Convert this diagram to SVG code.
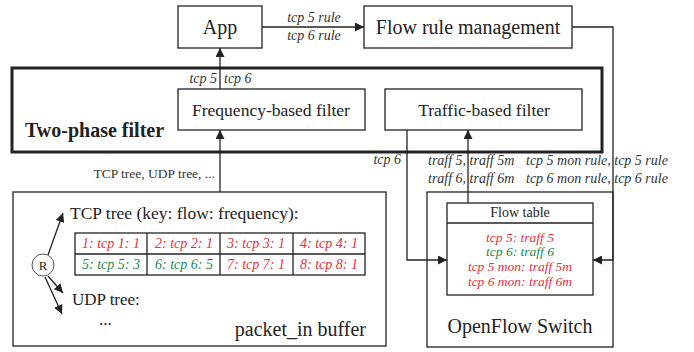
<svg xmlns="http://www.w3.org/2000/svg" width="694" height="352" viewBox="0 0 694 352">
<defs>
<marker id="ah" viewBox="0 0 10 10" refX="10" refY="5" markerWidth="9" markerHeight="9" markerUnits="userSpaceOnUse" orient="auto"><path d="M0,0 L10,5 L0,10 z" fill="#222"/></marker>
</defs>
<rect width="694" height="352" fill="#fff"/>
<g fill="#222">
<g id="two-phase">
<rect x="12" y="68" width="590" height="84" fill="none" stroke="#222" stroke-width="3"/>
<text style="font-family:'Liberation Serif',serif" x="25" y="137" font-size="20" font-weight="bold">Two-phase filter</text>
</g>
<g id="app"><rect x="178" y="6" width="84" height="42" fill="#fff" stroke="#222" stroke-width="1.3"/><text style="font-family:'Liberation Serif',serif" x="220" y="34" font-size="20" text-anchor="middle">App</text></g>
<g id="frm"><rect x="364" y="6" width="208" height="42" fill="#fff" stroke="#222" stroke-width="1.3"/><text style="font-family:'Liberation Serif',serif" x="468" y="34" font-size="20" text-anchor="middle">Flow rule management</text></g>
<g id="freq"><rect x="178" y="89" width="187" height="41" fill="#fff" stroke="#222" stroke-width="1.3"/><text style="font-family:'Liberation Serif',serif" x="271" y="116" font-size="17.5" text-anchor="middle">Frequency-based filter</text></g>
<g id="traffic"><rect x="385" y="89" width="197" height="41" fill="#fff" stroke="#222" stroke-width="1.3"/><text style="font-family:'Liberation Serif',serif" x="484" y="116" font-size="17.5" text-anchor="middle">Traffic-based filter</text></g>
<g id="buffer">
<rect x="13" y="192" width="373" height="154" fill="#fff" stroke="#222" stroke-width="1.3"/>
<text style="font-family:'Liberation Serif',serif" x="70" y="219" font-size="17.5">TCP tree (key: flow: frequency):</text>
<g fill="none" stroke="#222" stroke-width="1.3">
<rect x="75" y="233" width="290" height="42"/>
<line x1="75" y1="254" x2="365" y2="254"/><line x1="147" y1="233" x2="147" y2="275"/><line x1="220" y1="233" x2="220" y2="275"/><line x1="293" y1="233" x2="293" y2="275"/>
</g>
<g font-style="italic" font-size="14" text-anchor="middle">
<text style="font-family:'Liberation Serif',serif" fill="#e8303a" x="111" y="248">1: tcp 1: 1</text><text style="font-family:'Liberation Serif',serif" fill="#e8303a" x="184" y="248">2: tcp 2: 1</text><text style="font-family:'Liberation Serif',serif" fill="#e8303a" x="256" y="248">3: tcp 3: 1</text><text style="font-family:'Liberation Serif',serif" fill="#e8303a" x="329" y="248">4: tcp 4: 1</text>
<text style="font-family:'Liberation Serif',serif" fill="#1a8a50" x="111" y="269">5: tcp 5: 3</text><text style="font-family:'Liberation Serif',serif" fill="#1a8a50" x="184" y="269">6: tcp 6: 5</text><text style="font-family:'Liberation Serif',serif" fill="#e8303a" x="256" y="269">7: tcp 7: 1</text><text style="font-family:'Liberation Serif',serif" fill="#e8303a" x="329" y="269">8: tcp 8: 1</text>
</g>
<circle cx="43" cy="265" r="11" fill="#fff" stroke="#555" stroke-width="1"/>
<text style="font-family:'Liberation Serif',serif" x="43" y="270" font-size="13" text-anchor="middle">R</text>
<g fill="none" stroke="#222" stroke-width="1.3" marker-end="url(#ah)"><line x1="48" y1="255" x2="63" y2="213"/><line x1="48" y1="276" x2="63" y2="293"/><line x1="45" y1="277" x2="62" y2="314"/></g>
<text style="font-family:'Liberation Serif',serif" x="72" y="305" font-size="17">UDP tree:</text>
<text style="font-family:'Liberation Serif',serif" x="99" y="325" font-size="17">...</text>
<text style="font-family:'Liberation Serif',serif" x="366" y="336" font-size="20" text-anchor="end">packet_in buffer</text>
</g>
<g id="switch">
<rect x="427" y="192" width="186" height="155" fill="#fff" stroke="#222" stroke-width="1.3"/>
<rect x="447" y="203" width="146" height="92" fill="#fff" stroke="#222" stroke-width="1.3"/>
<line x1="447" y1="223" x2="593" y2="223" stroke="#222" stroke-width="1.3"/>
<text style="font-family:'Liberation Serif',serif" x="520" y="217" font-size="14" text-anchor="middle">Flow table</text>
<g font-style="italic" font-size="13.5" text-anchor="middle">
<text style="font-family:'Liberation Serif',serif" fill="#e8303a" x="520" y="242">tcp 5: traff 5</text>
<text style="font-family:'Liberation Serif',serif" fill="#1a8a50" x="520" y="256">tcp 6: traff 6</text>
<text style="font-family:'Liberation Serif',serif" fill="#e8303a" x="520" y="271">tcp 5 mon: traff 5m</text>
<text style="font-family:'Liberation Serif',serif" fill="#e8303a" x="520" y="286">tcp 6 mon: traff 6m</text>
</g>
<text style="font-family:'Liberation Serif',serif" x="520" y="333" font-size="20" text-anchor="middle">OpenFlow Switch</text>
</g>
<g id="connectors" fill="none" stroke="#222" stroke-width="1.3">
<line x1="262" y1="27" x2="364" y2="27" marker-end="url(#ah)"/>
<polyline points="572,27 613,27 613,260 593,260" marker-end="url(#ah)"/>
<line x1="220" y1="89" x2="220" y2="48" marker-end="url(#ah)"/>
<line x1="220" y1="192" x2="220" y2="130" marker-end="url(#ah)"/>
<polyline points="407,130 407,260 447,260" marker-end="url(#ah)"/>
<line x1="468" y1="203" x2="468" y2="130" marker-end="url(#ah)"/>
</g>
<g id="labels" font-style="italic" font-size="14" fill="#333">
<text style="font-family:'Liberation Serif',serif" x="314" y="22" text-anchor="middle">tcp 5 rule</text>
<text style="font-family:'Liberation Serif',serif" x="314" y="40" text-anchor="middle">tcp 6 rule</text>
<text style="font-family:'Liberation Serif',serif" x="217" y="83" text-anchor="end">tcp 5</text>
<text style="font-family:'Liberation Serif',serif" x="224" y="83">tcp 6</text>
<text style="font-family:'Liberation Serif',serif" x="215" y="178" font-size="13.5" text-anchor="end" font-style="normal">TCP tree, UDP tree, ...</text>
<text style="font-family:'Liberation Serif',serif" x="401" y="164" text-anchor="end">tcp 6</text>
<text style="font-family:'Liberation Serif',serif" x="428" y="165">traff 5, traff 5m</text>
<text style="font-family:'Liberation Serif',serif" x="428" y="183">traff 6, traff 6m</text>
<text style="font-family:'Liberation Serif',serif" x="526" y="165">tcp 5 mon rule, tcp 5 rule</text>
<text style="font-family:'Liberation Serif',serif" x="526" y="183">tcp 6 mon rule, tcp 6 rule</text>
</g>
</g>
</svg>
